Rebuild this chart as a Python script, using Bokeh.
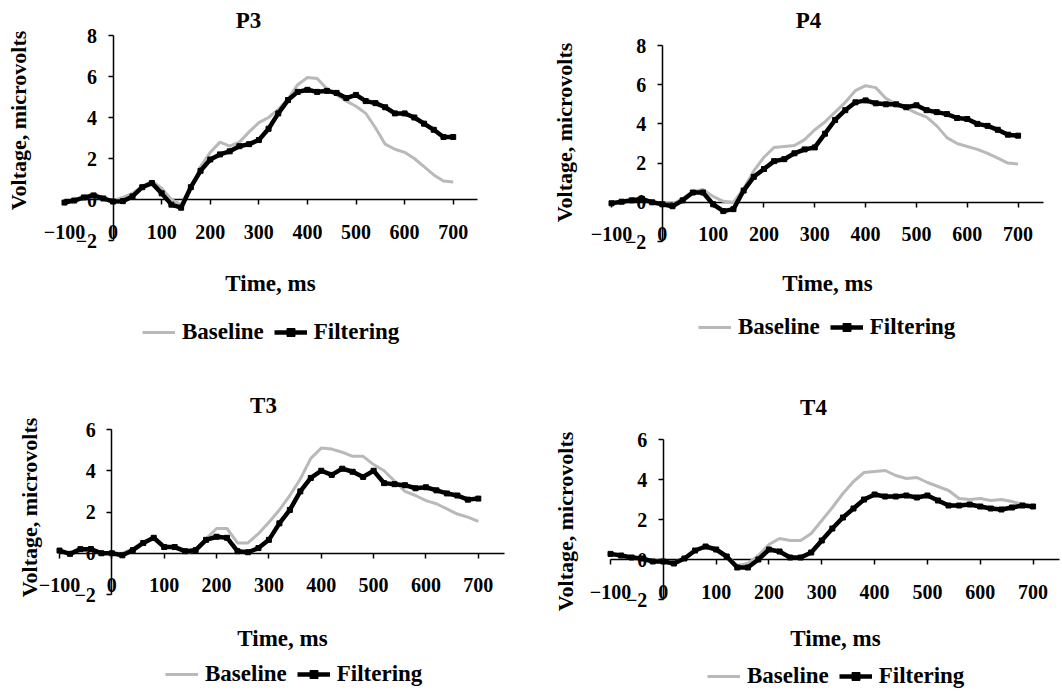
import math
from bokeh.plotting import figure
from bokeh.layouts import column, row
from bokeh.models import FixedTicker, Range1d, Label, Legend, LegendItem
from bokeh.embed import file_html
from bokeh.resources import INLINE

# ---------------- data ----------------
time_ms = list(range(-100, 701, 20))
x_ticks = [-100, 0, 100, 200, 300, 400, 500, 600, 700]
y_ticks_p = [-2, 0, 2, 4, 6, 8]
y_ticks_t = [-2, 0, 2, 4, 6]
series_names = ["Baseline", "Filtering"]
panel_names = ["P3", "P4", "T3", "T4"]
x_label = "Time, ms"
y_label = "Voltage, microvolts"

p3_baseline = [-0.15, -0.05, 0.1, 0.15, 0.05, -0.05,
               0.1, 0.3, 0.65, 0.9, 0.55,
               0.0, -0.25, 0.5, 1.6, 2.3,
               2.8, 2.6, 2.8, 3.3, 3.75,
               4.0, 4.4, 4.9, 5.6, 5.95,
               5.9, 5.4, 5.1, 4.8, 4.55,
               4.2, 3.5, 2.7, 2.45, 2.3,
               2.0, 1.6, 1.2, 0.9, 0.85]
p3_filtering = [-0.15, -0.05, 0.1, 0.2, 0.05, -0.1,
                -0.08, 0.15, 0.6, 0.8, 0.3,
                -0.25, -0.4, 0.6, 1.4, 1.95,
                2.2, 2.35, 2.6, 2.7, 2.9,
                3.45, 4.2, 4.85, 5.25, 5.35,
                5.25, 5.3, 5.2, 4.95, 5.1,
                4.8, 4.7, 4.5, 4.2, 4.2,
                4.0, 3.7, 3.4, 3.05, 3.05]

p4_baseline = [-0.05, 0.03, 0.1, 0.15, 0.0, -0.05,
               -0.1, 0.2, 0.55, 0.65, 0.3,
               0.05, 0.0, 0.7, 1.6, 2.3,
               2.8, 2.85, 2.9, 3.2, 3.7,
               4.1, 4.6, 5.1, 5.7, 5.95,
               5.85, 5.3, 5.0, 4.8, 4.55,
               4.35, 3.9, 3.3, 3.0, 2.85,
               2.7, 2.5, 2.25, 2.0, 1.95]
p4_filtering = [-0.05, 0.03, 0.1, 0.17, 0.0, -0.1,
                -0.2, 0.1, 0.5, 0.5, -0.1,
                -0.45, -0.35, 0.6, 1.3, 1.7,
                2.1, 2.2, 2.5, 2.7, 2.8,
                3.5, 4.2, 4.7, 5.1, 5.2,
                5.05, 5.0, 5.0, 4.85, 4.95,
                4.7, 4.6, 4.5, 4.3, 4.25,
                4.0, 3.9, 3.7, 3.45, 3.4]

t3_baseline = [0.1, 0.0, 0.15, 0.15, 0.0, 0.0,
               0.0, 0.2, 0.5, 0.8, 0.35,
               0.3, 0.05, 0.1, 0.7, 1.2,
               1.2, 0.5, 0.5, 0.95, 1.5,
               2.1, 2.8, 3.6, 4.6, 5.1,
               5.05, 4.9, 4.7, 4.7, 4.3,
               4.0, 3.5, 3.0, 2.8, 2.55,
               2.4, 2.15, 1.9, 1.75, 1.55]
t3_filtering = [0.13, -0.03, 0.2, 0.2, 0.0, 0.0,
                -0.1, 0.15, 0.5, 0.75, 0.3,
                0.3, 0.1, 0.15, 0.65, 0.8,
                0.75, 0.1, 0.05, 0.25, 0.65,
                1.45, 2.1, 3.0, 3.65, 4.0,
                3.8, 4.1, 3.95, 3.7, 4.0,
                3.4, 3.35, 3.3, 3.15, 3.2,
                3.05, 2.9, 2.8, 2.6, 2.65]

t4_baseline = [0.25, 0.2, 0.1, 0.05, -0.05, -0.1,
               -0.15, 0.05, 0.4, 0.65, 0.55,
               0.2, -0.3, -0.2, 0.2, 0.75,
               1.05, 0.95, 0.95, 1.3, 1.95,
               2.6, 3.3, 3.9, 4.35, 4.4,
               4.45, 4.2, 4.05, 4.1, 3.85,
               3.65, 3.45, 3.05, 3.0, 3.05,
               2.95, 3.0, 2.9, 2.75, 2.7]
t4_filtering = [0.28, 0.2, 0.1, 0.05, -0.1, -0.1,
                -0.2, 0.05, 0.45, 0.65, 0.5,
                0.15, -0.4, -0.4, 0.0, 0.5,
                0.4, 0.1, 0.1, 0.35, 0.95,
                1.55, 2.1, 2.55, 3.0, 3.25,
                3.15, 3.15, 3.2, 3.1, 3.2,
                2.95, 2.7, 2.7, 2.75, 2.65,
                2.55, 2.5, 2.6, 2.7, 2.65]

# ---------------- styling / layout ----------------
FONT = "Liberation Serif"
GRAY = "#b9b9b9"
X_MIN, X_MAX = -100, 750


def panel(name, base, filt, yticks, fig_box, plot_box, title_px, ylab_px,
          xlab_px, legend_px):
    ox, oy, w, h = fig_box                 # figure position on page (px)
    left, right, top, bottom = plot_box    # axis extents on page (px)
    y_min, y_max = yticks[0], yticks[-1]
    sx = (right - left) / (X_MAX - X_MIN)
    sy = (bottom - top) / (y_max - y_min)
    x0 = X_MIN - (left - ox) / sx
    x1 = X_MIN + (ox + w - left) / sx
    y1 = y_max + (top - oy) / sy
    y0 = y_min - (oy + h - bottom) / sy

    def to_data(px, py):
        return X_MIN + (px - left) / sx, y_max - (py - top) / sy

    p = figure(width=w, height=h, x_range=Range1d(x0, x1),
               y_range=Range1d(y0, y1), output_backend="svg",
               toolbar_location=None, min_border=0,
               min_border_left=0, min_border_right=0,
               min_border_top=0, min_border_bottom=0)
    p.xgrid.visible = False
    p.ygrid.visible = False
    p.outline_line_color = None

    for ax in (p.xaxis[0], p.yaxis[0]):
        ax.fixed_location = 0
        ax.minor_tick_line_color = None
        ax.major_tick_out = 5
        ax.major_tick_in = 0
        ax.axis_line_width = 1.5
        ax.major_tick_line_width = 1.5
        ax.axis_line_color = "black"
        ax.major_tick_line_color = "black"
        ax.major_label_text_font = FONT
        ax.major_label_text_font_style = "bold"
        ax.major_label_text_font_size = "20px"
        ax.major_label_text_color = "black"
        ax.level = "underlay"
    p.xaxis[0].ticker = FixedTicker(ticks=x_ticks)
    p.xaxis[0].bounds = (X_MIN, X_MAX)
    p.xaxis[0].major_label_standoff = 20
    p.yaxis[0].ticker = FixedTicker(ticks=yticks)
    p.yaxis[0].bounds = (y_min, y_max)
    p.yaxis[0].major_label_standoff = 11

    gb = p.line(time_ms, base, line_color=GRAY, line_width=3)
    gf = p.line(time_ms, filt, line_color="black", line_width=4.5)
    sf = p.scatter(time_ms, filt, marker="square", size=5, color="black")

    tx, ty = to_data(*title_px)
    p.add_layout(Label(x=tx, y=ty, text=name, text_font=FONT,
                       text_font_size="23px", text_font_style="bold",
                       text_color="black",
                       text_align="center", text_baseline="middle"))
    vx, vy = to_data(*ylab_px)
    p.add_layout(Label(x=vx, y=vy, text=y_label, text_font=FONT,
                       text_font_size="22px", text_font_style="bold",
                       text_color="black",
                       text_align="center", text_baseline="middle",
                       angle=math.pi / 2))
    lx, ly = to_data(*xlab_px)
    p.add_layout(Label(x=lx, y=ly, text=x_label, text_font=FONT,
                       text_font_size="23px", text_font_style="bold",
                       text_color="black",
                       text_align="center", text_baseline="middle"))

    leg_left, leg_cy = legend_px
    leg = Legend(items=[LegendItem(label=series_names[0], renderers=[gb]),
                        LegendItem(label=series_names[1], renderers=[gf, sf])],
                 orientation="horizontal",
                 location=(leg_left - ox, oy + h - leg_cy - 12),
                 label_text_font=FONT, label_text_font_size="23px",
                 label_text_font_style="bold", label_text_color="black",
                 glyph_width=33, glyph_height=20, label_height=24,
                 label_standoff=7, spacing=10, padding=0, margin=0,
                 border_line_color=None, background_fill_alpha=0)
    p.add_layout(leg)
    return p


p3 = panel(panel_names[0], p3_baseline, p3_filtering, y_ticks_p,
           (0, 0, 530, 380), (64, 477, 35, 240),
           (248, 20), (18, 120), (270, 283), (142, 333))
p4 = panel(panel_names[1], p4_baseline, p4_filtering, y_ticks_p,
           (530, 0, 530, 380), (611, 1043, 45, 241),
           (808, 20), (564, 132), (827, 283), (698, 328))
t3 = panel(panel_names[2], t3_baseline, t3_filtering, y_ticks_t,
           (0, 380, 530, 310), (59, 504, 429, 594),
           (263, 405), (29, 507), (282, 638), (165, 675))
t4 = panel(panel_names[3], t4_baseline, t4_filtering, y_ticks_t,
           (530, 380, 530, 310), (610, 1059, 439, 599),
           (813, 407), (565, 521), (835, 638), (707, 677))

layout = column(row(p3, p4), row(t3, t4))
open("out.html", "w").write(file_html(layout, INLINE))
